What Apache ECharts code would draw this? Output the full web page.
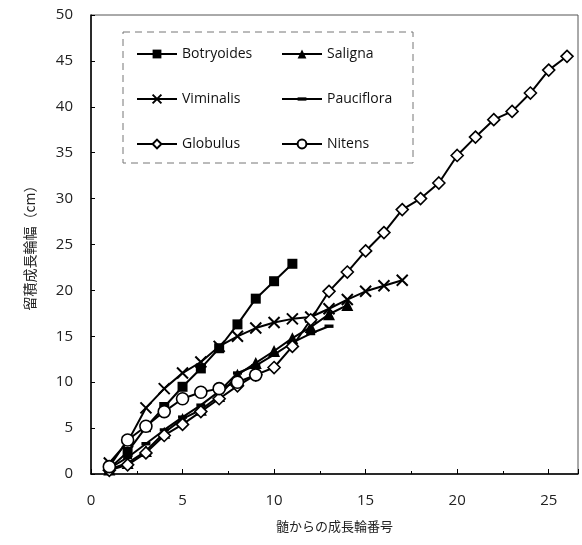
<!DOCTYPE html>
<html>
<head>
<meta charset="utf-8">
<script src="https://cdn.jsdelivr.net/npm/echarts@6/dist/echarts.min.js"></script>
<style>
  html, body { margin: 0; padding: 0; background: #fff; }
  #chart { width: 582px; height: 545px; }
</style>
</head>
<body>
<div id="chart"></div>
<script>
// 横坐标 (ring number from pith)
const ringNo = [1, 2, 3, 4, 5, 6, 7, 8, 9, 10, 11, 12, 13, 14, 15, 16, 17, 18, 19, 20, 21, 22, 23, 24, 25, 26];

// cumulative ring width (cm)
const botryoides = [0.6, 2.4, 5.1, 7.3, 9.5, 11.5, 13.7, 16.3, 19.1, 21.0, 22.9];
const saligna    = [0.5, 1.2, 2.5, 4.5, 6.0, 7.0, 8.5, 10.8, 12.1, 13.4, 14.8, 16.0, 17.4, 18.4];
const viminalis  = [1.2, 3.5, 7.2, 9.3, 11.0, 12.2, 13.9, 15.0, 15.9, 16.5, 16.9, 17.1, 18.0, 19.0, 19.9, 20.5, 21.1];
const pauciflora = [0.6, 1.8, 3.3, 4.8, 6.2, 7.5, 9.0, 11.0, 11.8, 13.0, 14.3, 15.3, 16.1];
const globulus   = [0.4, 1.0, 2.3, 4.2, 5.4, 6.8, 8.2, 9.6, 10.8, 11.6, 13.9, 16.8, 19.9, 22.0, 24.3, 26.3, 28.8,
                    30.0, 31.7, 34.7, 36.7, 38.6, 39.5, 41.5, 44.0, 45.5];
const nitens     = [0.8, 3.7, 5.2, 6.8, 8.2, 8.9, 9.3, 10.0, 10.8];

// tick labels
const yTicks = [0, 5, 10, 15, 20, 25, 30, 35, 40, 45, 50];

const pair = arr => arr.map((v, i) => [ringNo[i], v]);

const myChart = echarts.init(document.getElementById('chart'));
const txt = { fontFamily: 'Open Sans', color: '#222' };
const lineStyle = { color: '#000', width: 2 };

function mk(name, data, symbol, size, fill) {
    return {
        name: name,
        type: 'line',
        data: pair(data),
        symbol: symbol,
        symbolSize: size,
        showAllSymbol: true,
        lineStyle: lineStyle,
        itemStyle: { color: fill, borderColor: '#000', borderWidth: fill === '#fff' ? 1.6 : 0 },
        emphasis: { disabled: true },
        z: 3
    };
}

const xMark = 'path://M0,0 L10,10 M10,0 L0,10';
// small dash inside a square box so it keeps its shape in the legend too
const dash = 'path://M0,-2.5 M0,0 L8,0 L8,3 L0,3 Z M8,5.5';
const legendText = { fontFamily: 'Open Sans', fontSize: 14, color: '#111' };

const option = {
    animation: false,
    backgroundColor: '#fff',
    grid: { left: 91, right: 4, top: 15, bottom: 71, show: true, borderColor: '#555', borderWidth: 1 },
    legend: [
        {
            left: 131, top: 42, orient: 'vertical', itemGap: 31,
            itemWidth: 40, itemHeight: 11,
            textStyle: legendText,
            data: ['Botryoides', 'Viminalis', 'Globulus']
        },
        {
            left: 276, top: 42, orient: 'vertical', itemGap: 31,
            itemWidth: 40, itemHeight: 11,
            textStyle: legendText,
            data: ['Saligna', 'Pauciflora', 'Nitens']
        }
    ],
    graphic: [{
        type: 'rect',
        shape: { x: 123, y: 32, width: 290, height: 131 },
        style: { fill: 'none', stroke: '#777', lineWidth: 1, lineDash: [7, 5] },
        z: 10
    }],
    xAxis: {
        type: 'value',
        min: 0, max: 26.6, interval: 5,
        name: '髄からの成長輪番号',
        nameLocation: 'middle', nameGap: 46,
        nameTextStyle: { fontFamily: 'Noto Sans CJK JP', fontSize: 13, color: '#222' },
        axisLine: { lineStyle: { color: '#000', width: 1.5 } },
        axisTick: { inside: true, length: 5, lineStyle: { color: '#000' } },
        minorTick: { show: true, splitNumber: 2, length: 3, lineStyle: { color: '#000' } },
        axisLabel: Object.assign({ fontSize: 15, margin: 19,
            formatter: v => (v % 5 === 0 ? String(v) : '') }, txt),
        splitLine: { show: false }
    },
    yAxis: {
        type: 'value',
        min: yTicks[0], max: yTicks[yTicks.length - 1], interval: 5,
        name: '留積成長輪幅（cm）',
        nameLocation: 'middle', nameGap: 54, nameRotate: 90,
        nameTextStyle: { fontFamily: 'Noto Sans CJK JP', fontSize: 14, color: '#222' },
        axisLine: { show: true, lineStyle: { color: '#000', width: 1.5 } },
        axisTick: { inside: true, length: 4, lineStyle: { color: '#000' } },
        axisLabel: Object.assign({ fontSize: 15, margin: 18 }, txt),
        splitLine: { show: false }
    },
    series: [
        mk('Botryoides', botryoides, 'rect', 10, '#000'),
        mk('Saligna', saligna, 'triangle', 12, '#000'),
        Object.assign(mk('Viminalis', viminalis, xMark, 11, '#000'),
            { itemStyle: { color: 'none', borderColor: '#000', borderWidth: 2 } }),
        mk('Pauciflora', pauciflora, dash, 9, '#000'),
        mk('Globulus', globulus, 'diamond', 12, '#fff'),
        mk('Nitens', nitens, 'circle', 12, '#fff')
    ]
};
myChart.setOption(option);
</script>
</body>
</html>
